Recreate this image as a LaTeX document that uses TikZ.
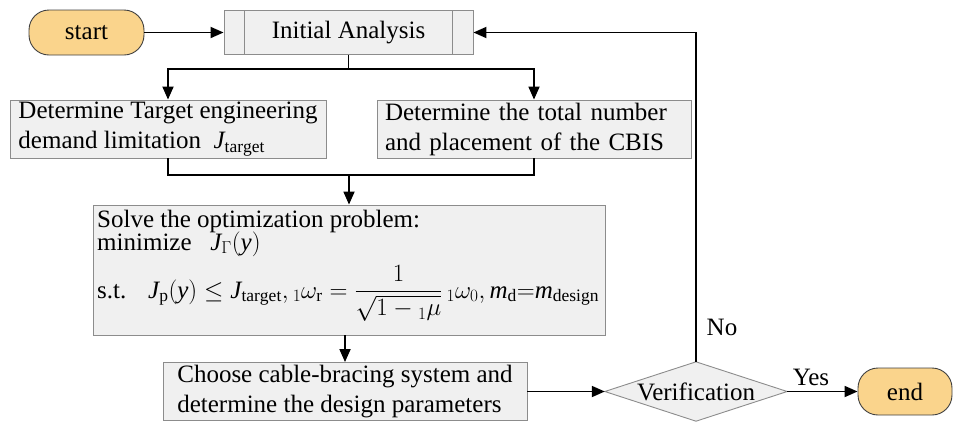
\documentclass[tikz,border=0pt]{standalone}
\usepackage{amsmath}
\usepackage{fontspec}
\setmainfont{Liberation Serif}
\usetikzlibrary{arrows.meta}
\definecolor{boxfill}{HTML}{F0F0F0}
\definecolor{boxdraw}{HTML}{8C8C8C}
\definecolor{termfill}{HTML}{FAD48C}
\newcommand{\mJ}{\mathit{J}}
\begin{document}
\begin{tikzpicture}[x=1pt,y=-1pt,
  every node/.style={font=\fontsize{25}{30}\selectfont},
  flowbox/.style={draw=boxdraw, fill=boxfill, line width=0.9pt, rectangle, inner sep=0pt},
  term/.style={draw=black!75, fill=termfill, rounded corners=20pt, line width=0.9pt, inner sep=0pt},
  conn/.style={line width=1.8pt, -{Triangle[length=13pt,width=11pt]}},
  plainline/.style={line width=1.8pt},
  txt/.style={inner sep=0pt, anchor=base west}
]
\useasboundingbox (0,0) rectangle (963,424);

% terminals
\node[term, minimum width=115pt, minimum height=45pt] (start) at (86.5,32.5) {start};
\node[term, minimum width=94pt, minimum height=47pt] (end) at (905,391.5) {end};

% initial analysis (predefined process)
\node[flowbox, minimum width=249pt, minimum height=44pt] (ia) at (348.5,32.5) {Initial Analysis};
\draw[boxdraw, line width=0.9pt] ([xshift=21pt]ia.north west) -- ([xshift=21pt]ia.south west);
\draw[boxdraw, line width=0.9pt] ([xshift=-21pt]ia.north east) -- ([xshift=-21pt]ia.south east);

% two parallel boxes
\node[flowbox, minimum width=316pt, minimum height=58pt, align=left] (tl) at (168,129)
  {Determine Target engineering\\demand limitation \ $\mJ_{\mathrm{target}}$};
\node[flowbox, minimum width=314pt, minimum height=58pt, text width=298pt, align=left] (tr) at (534,129)
  {Determine the total number\\and placement of the CBIS};

% optimization box
\node[flowbox, minimum width=512pt, minimum height=130pt] (opt) at (349,270) {};
\node[txt] (o1) at (97,227) {Solve the optimization problem:};
\node[txt] (o2) at (97,250) {minimize \ \ $\mJ_{\Gamma}(\mathit{y})$};
\node[txt] (o3) at (97,298) {s.t.};
\node[txt] (o4) at (148,298) {$\mJ_{\mathrm{p}}(\mathit{y})\le \mJ_{\mathrm{target}},{}_1\omega_{\mathrm{r}}=\dfrac{1}{\sqrt{1-{}_1\mu}}\,{}_1\omega_0,\mathit{m}_{\mathrm{d}}{=}\mathit{m}_{\mathrm{design}}$};

% choose box
\node[flowbox, minimum width=364pt, minimum height=58pt, align=left] (ch) at (345,391.5)
  {Choose cable-bracing system and\\determine the design parameters};

% verification diamond
\node[inner sep=0pt, minimum width=182pt, minimum height=59pt] (ver) at (696,391.5) {};
\draw[draw=boxdraw, fill=boxfill, line width=0.9pt] (ver.west) -- (ver.north) -- (ver.east) -- (ver.south) -- cycle;
\node[inner sep=0pt] (vertxt) at (ver.center) {Verification};

% junctions
\coordinate (j1) at (348.5,69);
\coordinate (j2) at (349,175);

% connectors
\draw[conn] (start.east) -- (start.east -| ia.west);
\draw[plainline] (ia.south) -- (j1);
\draw[conn] (j1) -| (tl.north);
\draw[conn] (j1) -| (tr.north);
\draw[plainline] (tl.south) |- (j2);
\draw[plainline] (tr.south) |- (j2);
\draw[conn] (j2) -- (opt.north);
\draw[conn] (opt.south -| ch.north) -- (ch.north);
\draw[conn] (ch.east) -- (ver.west);
\draw[conn] (ver.east) -- (end.west);
\draw[conn] (ver.north) |- (ia.east);

% labels
\node (no) at (722,327) {No};
\node (yes) at (811,377) {Yes};
\end{tikzpicture}
\end{document}
